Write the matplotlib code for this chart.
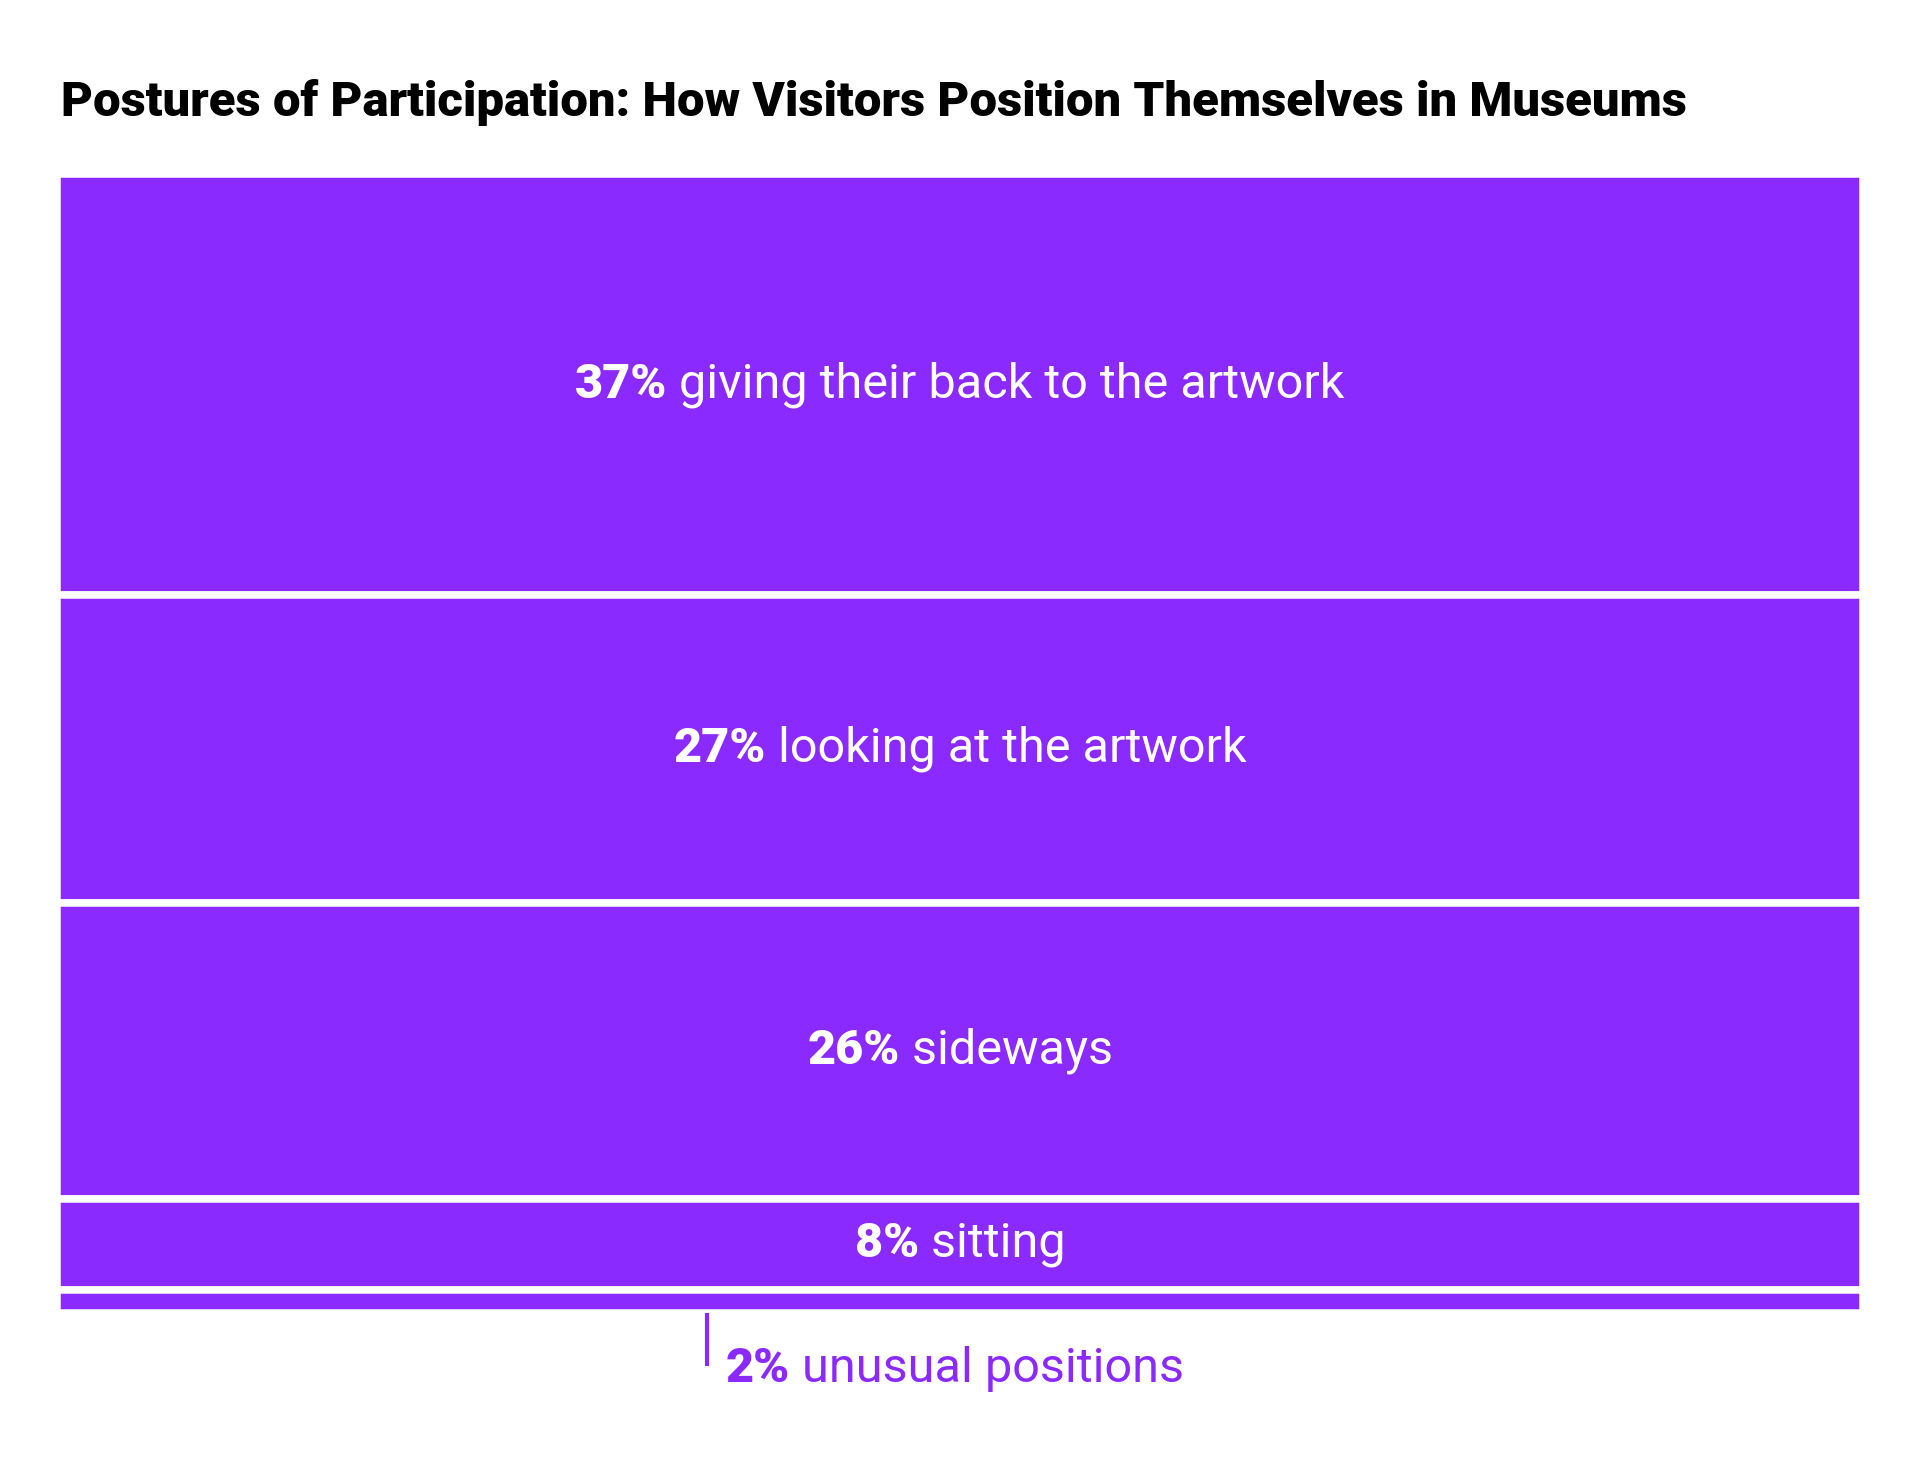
import matplotlib
matplotlib.use("Agg")
import matplotlib.pyplot as plt
import matplotlib.transforms as mtransforms
import numpy as np

# data
shares = [37, 27, 26, 8, 2]
pct_labels = ["37%", "27%", "26%", "8%", "2%"]
descriptions = ["giving their back to the artwork", "looking at the artwork",
                "sideways", "sitting", "unusual positions"]
title = "Postures of Participation: How Visitors Position Themselves in Museums"

purple = "#8B2AFF"
font = ["Roboto", "DejaVu Sans"]
plt.rcParams['font.family'] = font

W, H, DPI = 1920, 1481, 100
fig = plt.figure(figsize=(W / DPI, H / DPI), dpi=DPI)
fig.patch.set_facecolor("white")

# axes placed in pixel coords (visible bars 61..1859 x 178..1309)
lw_px = 7.5
left, right = 61 - lw_px / 2, 1859 + lw_px / 2
top, bottom = 178 - lw_px / 2, 1309 + lw_px / 2
ax = fig.add_axes([left / W, 1 - bottom / H, (right - left) / W, (bottom - top) / H])

bottoms = np.concatenate([[0], np.cumsum(shares)[:-1]])
ax.bar(0, shares, bottom=bottoms, width=1, color=purple,
       edgecolor="white", linewidth=lw_px * 72 / DPI)
ax.set_xlim(-0.5, 0.5)
ax.set_ylim(sum(shares), 0)
ax.axis("off")

fig.canvas.draw()
rend = fig.canvas.get_renderer()

lab_size = 35

def two_part(x, y, a, b, color, centered=True):
    # bold percentage + regular description, laid out side by side
    t1 = ax.text(x, y, a, fontsize=lab_size, fontweight="black", color=color,
                 va="center", ha="left")
    t2 = ax.text(x, y, " " + b, fontsize=lab_size, color=color,
                 va="center", ha="left")
    w1 = t1.get_window_extent(rend).width
    w2 = t2.get_window_extent(rend).width
    shift = -(w1 + w2) / 2 if centered else 0
    t1.set_transform(ax.transData + mtransforms.ScaledTranslation(shift / DPI, 0, fig.dpi_scale_trans))
    t2.set_transform(ax.transData + mtransforms.ScaledTranslation((shift + w1) / DPI, 0, fig.dpi_scale_trans))

for i in range(4):
    two_part(0, bottoms[i] + shares[i] / 2, pct_labels[i], descriptions[i], "white")

# small category: leader line + label below the stack
x_note = -0.14
ax.plot([x_note, x_note], [100, 104.7], color=purple, lw=3, clip_on=False, solid_capstyle="butt")
two_part(x_note + 0.01, 104.9, pct_labels[4], descriptions[4], purple, centered=False)

t = fig.text(61 / W, 1 - 116 / H, title, fontsize=32, fontweight="black", color="black",
             ha="left", va="baseline", family=["Roboto", "DejaVu Sans"])
tw = t.get_window_extent(rend).width
t.set_fontsize(32 * 1629 / tw)

fig.savefig("out.png", dpi=DPI, facecolor="white")
